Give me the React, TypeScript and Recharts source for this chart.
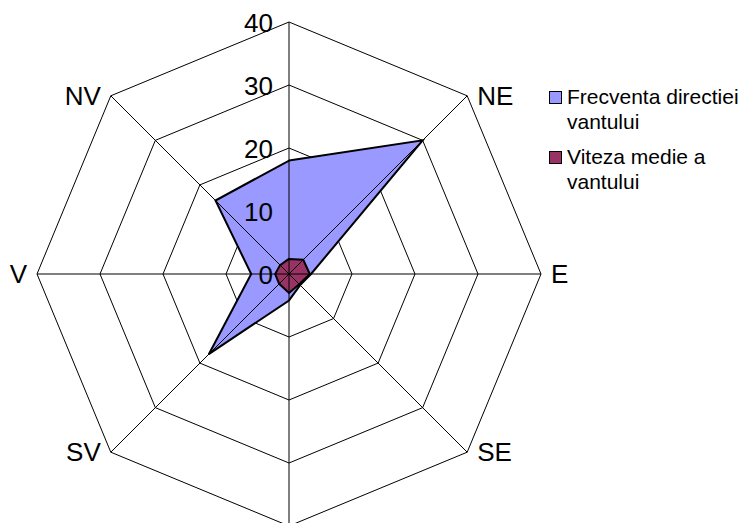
import { RadarChart, Radar, PolarGrid, PolarAngleAxis, PolarRadiusAxis, Legend } from 'recharts';

const directions = ['N', 'NE', 'E', 'SE', 'S', 'SV', 'V', 'NV'];
const frecventa = [18, 30, 3.5, 2.5, 4.2, 18, 6, 16.5];
const viteza = [2.4, 3.2, 3.3, 2.3, 3, 2.2, 2.2, 2];
const radiusTicks = [0, 10, 20, 30, 40];
// the N and S labels fall outside the visible picture
const hiddenLabels = ['N', 'S'];

const seriesNames = ['Frecventa directiei vantului', 'Viteza medie a vantului'];
const seriesColors = ['#9999FF', '#993366'];

const data = directions.map((dir, i) => ({ dir, frecventa: frecventa[i], viteza: viteza[i] }));

const CX = 289;
const CY = 274;
const R = 252;
const FONT = '"Liberation Sans", Arial, sans-serif';

function AngleTick(props: any) {
    const { x, y, payload } = props;
    if (hiddenLabels.includes(payload.value)) return null;
    const dx = x - CX;
    const dy = y - CY;
    const d = Math.sqrt(dx * dx + dy * dy) || 1;
    const ux = dx / d;
    const uy = dy / d;
    const vx = CX + ux * R;
    const vy = CY + uy * R;
    let anchor = 'middle';
    let tx = vx;
    let ty = vy;
    if (ux > 0.1) {
        anchor = 'start';
        tx = vx + 10;
    } else if (ux < -0.1) {
        anchor = 'end';
        tx = vx - 10;
    } else {
        ty = vy + (uy > 0 ? 18 : -18);
    }
    return (
        <text x={tx} y={ty} textAnchor={anchor} dominantBaseline="central" fontSize={26} fontFamily={FONT} fill="#000">
            {payload.value}
        </text>
    );
}

function RadiusTick(props: any) {
    const { y, payload } = props;
    return (
        <text x={CX - 16} y={y + 1} textAnchor="end" dominantBaseline="central" fontSize={26} fontFamily={FONT} fill="#000">
            {payload.value}
        </text>
    );
}

function LegendBox() {
    return (
        <div style={{ fontFamily: FONT, fontSize: 21, color: '#000', width: 195 }}>
            {seriesNames.map((name, i) => (
                <div key={name} style={{ position: 'relative', paddingLeft: 18, lineHeight: '25px', marginBottom: 10 }}>
                    <span
                        style={{
                            position: 'absolute',
                            left: 0,
                            top: 7,
                            width: 11,
                            height: 11,
                            background: seriesColors[i],
                            border: '1px solid #000',
                        }}
                    />
                    {name}
                </div>
            ))}
        </div>
    );
}

export default function App() {
    return (
        <div style={{ position: 'absolute', left: 0, top: 0, width: 748, height: 523, background: '#fff' }}>
            <RadarChart
                width={748}
                height={523}
                data={data}
                cx={CX}
                cy={CY}
                outerRadius={R}
                margin={{ top: 0, right: 0, bottom: 0, left: 0 }}
            >
                <PolarGrid gridType="polygon" stroke="#000" strokeOpacity={1} radialLines={false} />
                <PolarAngleAxis dataKey="dir" tick={<AngleTick />} tickLine={false} axisLine={false} tickSize={0} />
                <PolarRadiusAxis
                    angle={90}
                    domain={[0, 40]}
                    ticks={radiusTicks}
                    tickCount={5}
                    axisLine={false}
                    tick={<RadiusTick />}
                />
                <Radar
                    name={seriesNames[0]}
                    dataKey="frecventa"
                    fill={seriesColors[0]}
                    fillOpacity={1}
                    stroke="#000"
                    strokeWidth={2}
                    isAnimationActive={false}
                />
                <Radar
                    name={seriesNames[1]}
                    dataKey="viteza"
                    fill={seriesColors[1]}
                    fillOpacity={1}
                    stroke="#000"
                    strokeWidth={2}
                    isAnimationActive={false}
                />
                {/* radial axes are drawn on top of the filled areas */}
                <PolarGrid
                    gridType="polygon"
                    stroke="#000"
                    strokeOpacity={1}
                    polarRadius={[]}
                    {...({ zIndex: 1000 } as any)}
                />
                <Legend
                    layout="vertical"
                    align="right"
                    verticalAlign="top"
                    content={<LegendBox />}
                    wrapperStyle={{ left: 549, top: 84, width: 199 }}
                />
            </RadarChart>
        </div>
    );
}
